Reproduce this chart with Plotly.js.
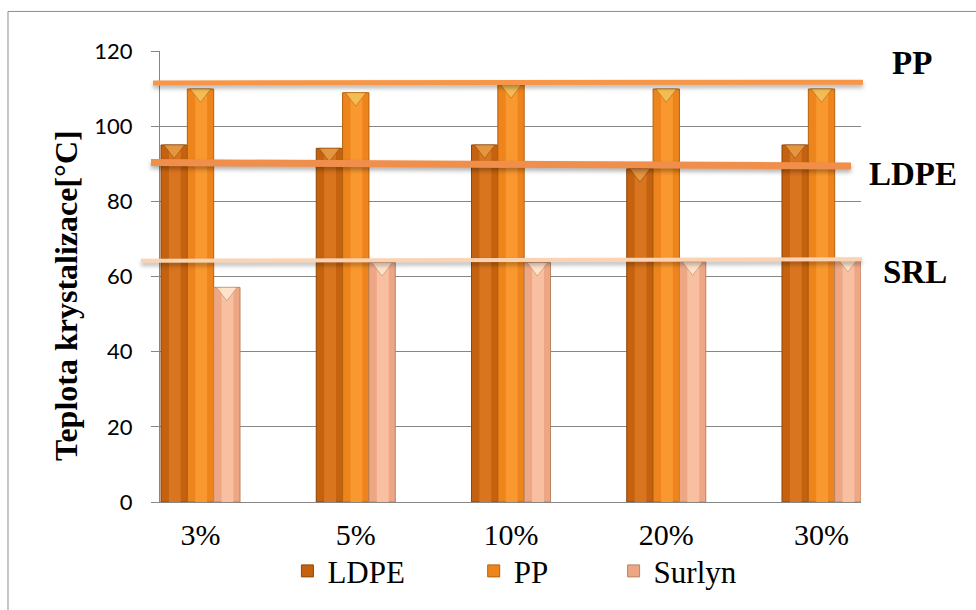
<!DOCTYPE html>
<html>
<head>
<meta charset="utf-8">
<script src="https://cdn.plot.ly/plotly-3.0.1.min.js"></script>
<style>
  html, body { margin: 0; padding: 0; background: #fff; }
  #chart { width: 976px; height: 610px; }
</style>
</head>
<body>
<div id="chart"></div>
<script>
// Filler content (%) on the category axis
const categories = ['3%', '5%', '10%', '20%', '30%'];

// Crystallisation temperature [°C] of each blend
const ldpe   = [95.0, 94.1, 95.0, 88.7, 95.0];
const pp     = [109.9, 108.9, 111.0, 109.9, 109.9];
const surlyn = [57.1, 63.7, 63.7, 63.9, 64.8];

// Levels of the pure polymers (start, end) and the x span each level line covers
const ppLevel    = [111.5, 111.7];
const ldpeLevel  = [90.3, 89.4];
const srlLevel   = [64.2, 64.6];
const ppSpan     = [-0.306, 4.267];
const ldpeSpan   = [-0.319, 4.190];
const srlSpan    = [-0.383, 4.261];
const levelNames = ['PP', 'LDPE', 'SRL'];

const yTicks = [0, 20, 40, 60, 80, 100, 120];
const yTitle = 'Teplota krystalizace[°C]';

// ---- geometry / style ----
const serif = "'Liberation Serif', 'Times New Roman', serif";
const W = 976, H = 610;
const M = { l: 120, r: 70, t: 51, b: 103 };
const plotW = W - M.l - M.r, plotH = H - M.t - M.b;
const xDomain = [0.05089, 0.94275];
const xRange = [-0.2609, 4.2544];
const yRange = [0, 120];
// second (wider) subplot carrying the level lines, aligned to the same scale
const unitsPerPaper = (xRange[1] - xRange[0]) / (xDomain[1] - xDomain[0]);
const x2Range = [xRange[0] - xDomain[0] * unitsPerPaper, xRange[1] + (1 - xDomain[1]) * unitsPerPaper];

const idx = categories.map((_, i) => i);
const barW = 0.1697;
const series = [
  { name: 'LDPE',   y: ldpe,   off: -1.5 * barW, base: '#C4620F', hi: '#D9741F', edge: '#8E4708', cap: '#E69A45', legend: 'legend'  },
  { name: 'PP',     y: pp,     off: -0.5 * barW, base: '#EE841C', hi: '#F8982F', edge: '#B5620C', cap: '#F2C25A', legend: 'legend2' },
  { name: 'Surlyn', y: surlyn, off:  0.5 * barW, base: '#EDA785', hi: '#F8C0A0', edge: '#B98463', cap: '#FFE6CF', legend: 'legend3' }
];

const unitsPerPx = (yRange[1] - yRange[0]) / plotH;
const capSize = 18;
const capLift = (capSize / 4) * unitsPerPx;   // keeps the top edge of the cap flush with the bar top

const traces = [];
series.forEach(s => {
  traces.push({
    type: 'bar', name: s.name, x: idx, y: s.y, offset: s.off, width: barW,
    marker: { color: s.base, line: { color: s.edge, width: 1 } },
    legend: s.legend, hoverinfo: 'x+y'
  });
  traces.push({
    type: 'bar', name: s.name, x: idx, y: s.y, offset: s.off + barW * 0.3, width: barW * 0.45,
    marker: { color: s.hi, line: { width: 0 } }, showlegend: false, hoverinfo: 'skip'
  });
  traces.push({
    type: 'scatter', mode: 'markers', name: s.name, showlegend: false, hoverinfo: 'skip',
    x: idx.map(i => i + s.off + barW / 2), y: s.y.map(v => v - capLift),
    marker: { symbol: 'triangle-down', size: capSize, color: s.cap, opacity: 0.9,
              line: { color: s.edge, width: 0.6 } }
  });
});

const levels = [
  { span: ppSpan,   y: ppLevel,   color: '#F79646', width: 5 },
  { span: ldpeSpan, y: ldpeLevel, color: '#F08F4B', width: 7 },
  { span: srlSpan,  y: srlLevel,  color: '#FBD3B3', width: 4 }
];
levels.forEach((l, k) => {
  traces.push({
    type: 'scatter', mode: 'lines', name: levelNames[k], x: l.span, y: l.y,
    xaxis: 'x2', yaxis: 'y2', showlegend: false, hoverinfo: 'skip',
    line: { color: l.color, width: l.width }
  });
});

const legendBase = {
  orientation: 'h', yanchor: 'middle', xanchor: 'left', y: -0.1535,
  font: { family: serif, size: 31, color: '#000' }, bgcolor: 'rgba(0,0,0,0)'
};

const labelFont = { family: serif, size: 33, color: '#000', weight: 'bold' };

const layout = {
  width: W, height: H,
  margin: M,
  paper_bgcolor: '#fff', plot_bgcolor: 'rgba(0,0,0,0)',
  barmode: 'overlay',
  xaxis: {
    domain: xDomain, range: xRange, type: 'linear',
    tickvals: idx, ticktext: categories,
    showgrid: false, zeroline: false,
    showline: true, linecolor: '#868686', linewidth: 1,
    ticks: '', ticklabelstandoff: 6,
    tickfont: { family: serif, size: 30, color: '#000' }
  },
  yaxis: {
    range: yRange, tickvals: yTicks,
    showgrid: true, gridcolor: '#868686', gridwidth: 1,
    zeroline: false, showline: true, linecolor: '#868686', linewidth: 1,
    ticks: 'outside', ticklen: 8, tickcolor: '#868686', ticklabelstandoff: 14,
    tickfont: { family: "Lato, 'Open Sans', sans-serif", size: 22, color: '#000' }
  },
  xaxis2: { domain: [0, 1], range: x2Range, anchor: 'y2', visible: false, fixedrange: true },
  yaxis2: { domain: [0, 1], range: yRange, anchor: 'x2', visible: false, fixedrange: true },
  legend:  Object.assign({}, legendBase, { x: 0.213 }),
  legend2: Object.assign({}, legendBase, { x: 0.4500 }),
  legend3: Object.assign({}, legendBase, { x: 0.6280 }),
  annotations: [
    { text: yTitle, xref: 'paper', yref: 'paper', x: -0.068, y: 0.458, textangle: -90,
      xanchor: 'center', yanchor: 'middle',
      showarrow: false, font: Object.assign({}, labelFont, { size: 32 }) },
    { text: levelNames[0], xref: 'paper', yref: 'paper', x: 1.0076, y: 0.973,
      xanchor: 'center', yanchor: 'middle', showarrow: false, font: labelFont },
    { text: levelNames[1], xref: 'paper', yref: 'paper', x: 1.0089, y: 0.727,
      xanchor: 'center', yanchor: 'middle', showarrow: false, font: labelFont },
    { text: levelNames[2], xref: 'paper', yref: 'paper', x: 1.012, y: 0.510,
      xanchor: 'center', yanchor: 'middle', showarrow: false, font: labelFont }
  ],
  shapes: [
    // chart frame
    { type: 'rect', xref: 'paper', yref: 'paper', x0: -0.1425, x1: 2, y0: -2, y1: 1.0877,
      line: { color: '#8C8C8C', width: 1 }, fillcolor: 'rgba(0,0,0,0)', layer: 'below' }
  ]
};

Plotly.newPlot('chart', traces, layout, { displayModeBar: false, staticPlot: true }).then(gd => {
  // soft shadow under the level lines
  gd.querySelectorAll('.subplot.x2y2 .scatterlayer path.js-line').forEach(p => {
    p.style.filter = 'drop-shadow(0px 3px 2px rgba(0,0,0,0.3))';
  });
});
</script>
</body>
</html>
